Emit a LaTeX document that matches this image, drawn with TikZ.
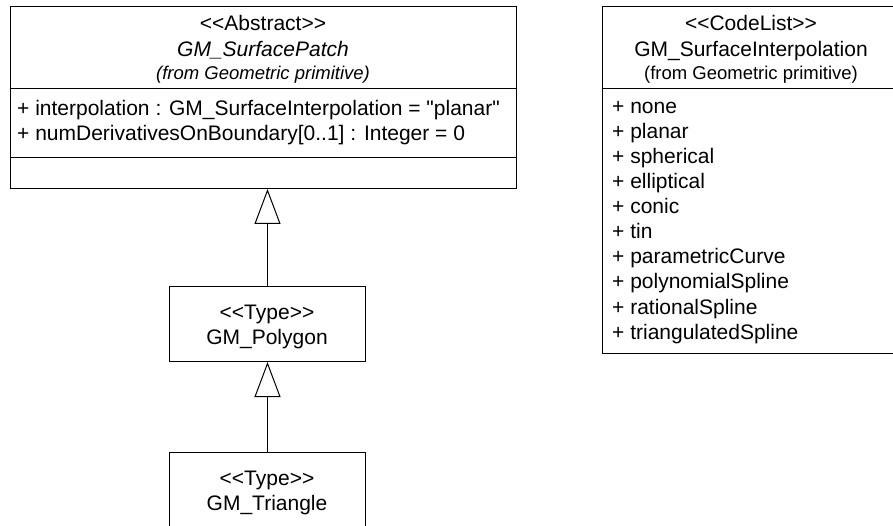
\documentclass[tikz,border=0pt]{standalone}
\usepackage{fontspec}
\setmainfont{Liberation Sans}[Ligatures=TeXOff]
\usetikzlibrary{arrows.meta}
\begin{document}
\begin{tikzpicture}[x=1pt,y=-1pt,
  umlbox/.style={draw=black,line width=1pt,rectangle,inner sep=0pt,anchor=north west,fill=white},
  txt/.style={inner sep=0pt,anchor=base,font=\fontsize{21}{25}\selectfont},
  ltxt/.style={inner sep=0pt,anchor=base west,font=\fontsize{21}{25}\selectfont},
  small/.style={inner sep=0pt,anchor=base,font=\fontsize{18.5}{22}\selectfont},
  sep/.style={draw=black,line width=1pt},
  gen/.style={draw=black,line width=1pt,-{Triangle[open,length=35pt,width=26pt,fill=white]}}
]
\useasboundingbox (0,0) rectangle (893,526);
\clip (0,0) rectangle (893,526);
\fill[white] (0,0) rectangle (893,526);

% GM_SurfacePatch
\node[umlbox,minimum width=506pt,minimum height=182pt] (patch) at (10,6) {};
\node[txt] (patchst) at (263,31) {<{}<Abstract>{}>};
\node[txt,font=\fontsize{21}{25}\selectfont\itshape] (patchname) at (263,57) {GM\_SurfacePatch};
\node[small,font=\fontsize{18.5}{22}\selectfont\itshape] (patchfrom) at (263,80) {(from Geometric primitive)};
\coordinate (ps1) at (10,89);
\coordinate (ps2) at (10,158);
\draw[sep] (ps1) -- (ps1 -| patch.east);
\draw[sep] (ps2) -- (ps2 -| patch.east);
\node[ltxt] (attr1) at (17,116) {+ interpolation : GM\_SurfaceInterpolation = "planar"};
\node[ltxt] (attr2) at (17,141) {+ numDerivativesOnBoundary[0..1] : Integer = 0};

% GM_SurfaceInterpolation
\node[umlbox,minimum width=298pt,minimum height=347pt] (interp) at (602,6) {};
\node[txt] (interpst) at (751,31) {<{}<CodeList>{}>};
\node[txt] (interpname) at (751,57) {GM\_SurfaceInterpolation};
\node[small] (interpfrom) at (751,80) {(from Geometric primitive)};
\coordinate (is1) at (602,89);
\draw[sep] (is1) -- (is1 -| interp.east);
\node[ltxt] (v1) at (612,114) {+ none};
\node[ltxt] (v2) at (612,139) {+ planar};
\node[ltxt] (v3) at (612,164) {+ spherical};
\node[ltxt] (v4) at (612,189) {+ elliptical};
\node[ltxt] (v5) at (612,214) {+ conic};
\node[ltxt] (v6) at (612,239) {+ tin};
\node[ltxt] (v7) at (612,264) {+ parametricCurve};
\node[ltxt] (v8) at (612,289) {+ polynomialSpline};
\node[ltxt] (v9) at (612,314) {+ rationalSpline};
\node[ltxt] (v10) at (612,339) {+ triangulatedSpline};

% GM_Polygon
\node[umlbox,minimum width=196pt,minimum height=75pt] (poly) at (169,286) {};
\node[txt] (polyst) at (267,319) {<{}<Type>{}>};
\node[txt] (polyname) at (267,344) {GM\_Polygon};

% GM_Triangle
\node[umlbox,minimum width=196pt,minimum height=90pt] (tri) at (169,452) {};
\node[txt] (trist) at (267,485) {<{}<Type>{}>};
\node[txt] (triname) at (267,510) {GM\_Triangle};

% generalizations
\draw[gen] (poly.north) -- (poly.north |- patch.south);
\draw[gen] (tri.north) -- (poly.south);
\end{tikzpicture}
\end{document}
